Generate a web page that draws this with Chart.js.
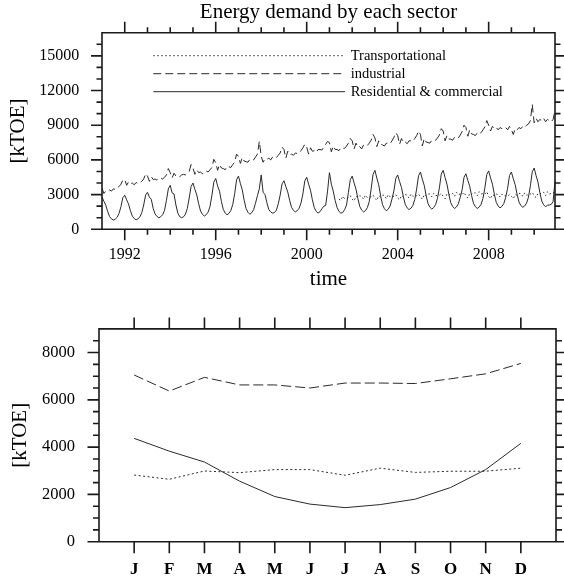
<!DOCTYPE html>
<html><head><meta charset="utf-8">
<script src="https://cdn.jsdelivr.net/npm/chart.js@4/dist/chart.umd.min.js"></script>
<style>
html,body{margin:0;padding:0;background:#fff;width:564px;height:581px;overflow:hidden}
canvas{position:absolute;left:0}
#c1{top:0}
#c2{top:295px}
</style></head><body>
<canvas id="c1" width="564" height="295"></canvas>
<canvas id="c2" width="564" height="286"></canvas>
<script>
// ---------- DATA ----------
const years = [1991,1992,1993,1994,1995,1996,1997,1998,1999,2000,2001,2002,2003,2004,2005,2006,2007,2008,2009,2010];
const monthCodes = ['01','02','03','04','05','06','07','08','09','10','11','12'];
const seriesNames = ['Transportational','industrial','Residential & commercial'];
const chartTitle = 'Energy demand by each sector';

const residential = [
 2800,2420,2080,1540,1100,900,800,880,1040,1380,1960,2740,
 2950,2550,2180,1610,1140,930,820,900,1080,1440,2100,2960,
 3200,2780,2600,1810,1330,1110,1000,1090,1260,1640,2510,3500,
 3800,3150,3050,2100,1400,1100,1000,1080,1300,1800,2700,3700,
 4000,3460,2970,2200,1580,1290,1150,1260,1490,1980,2950,4080,
 4400,3750,3300,2400,1720,1400,1250,1380,1630,2160,3080,4270,
 4600,3970,3410,2520,1800,1470,1300,1430,1700,2260,2900,3500,
 4700,3200,3000,2300,1700,1500,1400,1450,1650,2200,2960,3930,
 4200,3690,3230,2500,1900,1640,1500,1610,1820,2280,3070,4190,
 4500,3910,3380,2550,1870,1560,1400,1520,1770,2000,2050,3300,
 4900,3900,3300,2500,1900,1550,1400,1450,1700,2100,3170,4290,
 4600,4010,3480,2650,1970,1660,1500,1620,1870,2400,3490,4750,
 5100,4430,3840,2900,2130,1780,1600,1740,2020,2620,3320,4400,
 4700,4130,3620,2810,2150,1850,1700,1820,2060,2570,3480,4630,
 4950,4340,3800,2930,2230,1910,1750,1880,2130,2680,3580,4770,
 5100,4470,3910,3020,2300,1970,1800,1930,2200,2760,3420,4500,
 4800,4230,3720,2910,2250,1950,1800,1920,2160,2670,3580,4730,
 5050,4440,3900,3030,2330,2010,1850,1980,2230,2780,3550,4650,
 4950,4370,3850,3030,2360,2050,1900,2020,2270,2780,3760,4970,
 5300,4660,4090,3190,2450,2120,1950,2080,2100,2150,2400,4200
];
const industrial = [
 3550,3100,3300,3250,3400,3300,3500,3450,3600,3700,3900,4250,
 4300,3800,4100,3950,4000,3850,4050,3950,4000,4150,4350,4800,
 4600,4150,4550,4300,4350,4250,4400,4400,4350,4500,4700,5250,
 4900,4450,4850,4600,4650,4550,4700,4750,4700,4850,5000,5600,
 5300,4750,5150,4900,4950,4800,5000,5050,4950,5150,5350,6050,
 5750,5100,5600,5300,5250,5150,5450,5400,5350,5600,5800,6500,
 6300,5700,6200,5900,5850,5800,6050,6000,6000,6250,6500,7600,
 6300,5800,6100,6050,6150,6000,6250,6150,6200,6400,6600,7100,
 6900,6150,6750,6450,6500,6400,6600,6550,6600,6800,7050,7350,
 7100,6500,7050,6750,6800,6650,6900,6900,6850,7100,7350,7600,
 7500,6700,7200,6900,6900,6800,7050,7000,7000,7200,7450,7850,
 7650,6950,7450,7100,7150,6950,7300,7250,7250,7450,7700,8200,
 7900,7150,7650,7350,7300,7200,7450,7450,7400,7650,7950,8350,
 8100,7350,7850,7500,7550,7400,7650,7650,7600,7850,8100,8500,
 8200,7200,7850,7550,7500,7450,7700,7650,7700,7900,8150,8700,
 8500,7650,8100,7800,7800,7700,7950,8000,7900,8150,8450,9000,
 8800,8050,8600,8250,8200,8100,8350,8300,8350,8600,8850,9400,
 9000,8500,8900,8700,8800,8600,8800,8700,8700,8800,8600,8900,
 8600,8200,8700,8600,8800,8700,8900,8800,9000,9100,9400,10800,
 9200,9600,9300,9500,9400,9600,9300,9500,9400,9300,9500,10300
];
const transportStart = '2001-06';
const transportValues = [
 2600,2500,2850,2650,2700,2750,2900,
 2600,2450,2850,2750,2900,2850,2600,2950,2750,2800,2800,2950,
 2700,2500,2900,2800,2950,2950,2650,3000,2800,2850,2850,3000,
 2700,2550,2900,2800,3000,2950,2700,3050,2850,2900,2900,3050,
 2800,2600,3000,2900,3050,3050,2800,3100,2900,2950,2950,3100,
 2850,2650,3050,2950,3100,3100,2850,3200,3000,3050,3000,3200,
 2900,2700,3100,3000,3150,3150,2900,3250,3050,3100,3050,3250,
 2850,2650,3000,2900,3050,3000,2800,3050,2900,2900,2850,3000,
 2850,2650,3000,2950,3100,3100,2850,3150,2950,3000,3050,3200,
 2900,2750,3100,3050,3200,3200,2900,3250,3050,3100,3100,3350
];
const yearTickLabels = ['1992','1996','2000','2004','2008'];
const topYTickLabels = [0,3000,6000,9000,12000,15000];

const climMonths = ['J','F','M','A','M','J','J','A','S','O','N','D'];
const climTransport  = [2820,2640,2990,2920,3050,3050,2810,3110,2930,2980,2980,3110];
const climIndustrial = [7050,6370,6950,6630,6630,6500,6710,6710,6690,6890,7100,7540];
const climResidential= [4370,3830,3370,2560,1910,1590,1440,1570,1800,2290,3050,4160];
const bottomYTickLabels = [0,2000,4000,6000,8000];

// ---------- BUILD ----------
const FONT = "'Liberation Serif','Times New Roman',serif";
const INK = '#1a1a1a';
const LINE = '#2a2a2a';

const categories = [];
years.forEach(y => monthCodes.forEach(m => categories.push(y + '-' + m)));
const tStartIdx = categories.indexOf(transportStart);
const transport = categories.map((c, i) => (i >= tStartIdx ? transportValues[i - tStartIdx] : null));

function framePlugin(cfg) {
  return {
    id: 'frame',
    afterDatasetsDraw(chart) {
      const {ctx, chartArea: a, scales} = chart;
      const xs = scales.x, ys = scales.y;
      ctx.save();
      ctx.strokeStyle = INK;
      ctx.lineWidth = 1.6;
      ctx.setLineDash([]);
      ctx.beginPath();
      ctx.rect(a.left, a.top, a.right - a.left, a.bottom - a.top);
      cfg.xTicks.forEach(t => {
        const p = xs.getPixelForValue(t.v);
        ctx.moveTo(p, a.bottom); ctx.lineTo(p, a.bottom + t.len);
        ctx.moveTo(p, a.top); ctx.lineTo(p, a.top - t.len);
      });
      cfg.yTicks.forEach(t => {
        const p = ys.getPixelForValue(t.v);
        ctx.moveTo(a.left, p); ctx.lineTo(a.left - t.len, p);
        ctx.moveTo(a.right, p); ctx.lineTo(a.right + t.len, p);
      });
      ctx.stroke();
      if (cfg.title) {
        ctx.fillStyle = '#000';
        ctx.font = cfg.title.font;
        ctx.textAlign = 'center';
        ctx.textBaseline = 'middle';
        ctx.fillText(cfg.title.text, (a.left + a.right) / 2, cfg.title.y);
      }
      if (cfg.legend) {
        const L = cfg.legend;
        chart.data.datasets.forEach((ds, i) => {
          const y = L.y0 + i * L.dy;
          ctx.beginPath();
          ctx.strokeStyle = LINE;
          ctx.lineWidth = 1;
          ctx.setLineDash(ds.borderDash || []);
          ctx.moveTo(L.x0, y); ctx.lineTo(L.x1, y);
          ctx.stroke();
          ctx.setLineDash([]);
          ctx.fillStyle = '#000';
          ctx.font = L.font;
          ctx.textBaseline = 'alphabetic';
          ctx.textAlign = 'left';
          ctx.fillText(ds.label, L.tx, y + 4.2);
        });
      }
      ctx.restore();
    }
  };
}

// top chart ticks
const topXTicks = [];
years.forEach((y, i) => {
  if (i === 0) return;
  const idx = categories.indexOf(y + '-01');
  topXTicks.push({v: idx, len: yearTickLabels.includes(String(y)) ? 11 : 5.5});
});
const topYTicks = [];
for (let v = 1000; v < 17000; v += 1000) topYTicks.push({v, len: v % 3000 === 0 ? 11 : 5.5});
topYTicks.push({v: 0, len: 11});

new Chart(document.getElementById('c1'), {
  type: 'line',
  data: {
    labels: categories,
    datasets: [
      {label: seriesNames[0], data: transport, borderColor: LINE, borderWidth: 1, borderDash: [1.5, 2.5], pointRadius: 0, spanGaps: false},
      {label: seriesNames[1], data: industrial, borderColor: LINE, borderWidth: 1, borderDash: [8, 4], pointRadius: 0},
      {label: seriesNames[2], data: residential, borderColor: LINE, borderWidth: 1, pointRadius: 0}
    ]
  },
  options: {
    responsive: false, animation: false,
    layout: {padding: {left: 0, right: 9, top: 32.7, bottom: 0}},
    plugins: {legend: {display: false}, tooltip: {enabled: false}, title: {display: false}},
    scales: {
      x: {
        type: 'category', offset: false,
        grid: {display: false, drawTicks: false}, border: {display: false},
        afterBuildTicks: s => { s.ticks = yearTickLabels.map(l => ({value: categories.indexOf(l + '-01')})); },
        afterFit: s => { s.height = 65.7; },
        ticks: {autoSkip: false, maxRotation: 0, padding: 16, color: '#000',
          font: {family: FONT, size: 16}, callback: v => categories[v].slice(0, 4)},
        title: {display: true, text: 'time', color: '#000', font: {family: FONT, size: 21}, padding: {top: 0, bottom: 3.4}}
      },
      y: {
        min: 0, max: 17000,
        grid: {display: false, drawTicks: false}, border: {display: false},
        afterBuildTicks: s => { s.ticks = topYTickLabels.map(v => ({value: v})); },
        afterFit: s => { s.width = 102; },
        ticks: {padding: 22.7, color: '#000', font: {family: FONT, size: 16}, callback: v => String(v)},
        title: {display: true, text: '[kTOE]', color: '#000', font: {family: FONT, size: 21}, padding: {top: 5.4, bottom: 0}}
      }
    }
  },
  plugins: [framePlugin({
    xTicks: topXTicks, yTicks: topYTicks,
    title: {text: chartTitle, y: 12.6, font: "21px " + FONT},
    legend: {x0: 153.3, x1: 345, y0: 55.7, dy: 18, tx: 350.7, font: "14.5px " + FONT}
  })]
});

// bottom chart
const botXTicks = climMonths.map((m, i) => ({v: i + 1, len: 11.5}));
const botYTicks = [];
for (let v = 500; v < 9000; v += 500) botYTicks.push({v, len: v % 2000 === 0 ? 11.5 : 6});
botYTicks.push({v: 0, len: 11.5});
const toPts = arr => arr.map((v, i) => ({x: i + 1, y: v}));

new Chart(document.getElementById('c2'), {
  type: 'line',
  data: {
    datasets: [
      {label: seriesNames[0], data: toPts(climTransport), borderColor: LINE, borderWidth: 1, borderDash: [2, 2.5], pointRadius: 0},
      {label: seriesNames[1], data: toPts(climIndustrial), borderColor: LINE, borderWidth: 1, borderDash: [10, 4], pointRadius: 0},
      {label: seriesNames[2], data: toPts(climResidential), borderColor: LINE, borderWidth: 1, pointRadius: 0}
    ]
  },
  options: {
    responsive: false, animation: false,
    layout: {padding: {left: 0, right: 8, top: 17.7, bottom: 0}},
    plugins: {legend: {display: false}, tooltip: {enabled: false}},
    scales: {
      x: {
        type: 'linear', min: 0, max: 13,
        grid: {display: false, drawTicks: false}, border: {display: false},
        afterBuildTicks: s => { s.ticks = climMonths.map((m, i) => ({value: i + 1})); },
        afterFit: s => { s.height = 39.3; },
        ticks: {autoSkip: false, maxRotation: 0, padding: 18.1, color: '#000',
          font: {family: FONT, size: 17, weight: 'bold'}, callback: v => climMonths[v - 1]}
      },
      y: {
        min: 0, max: 9000,
        grid: {display: false, drawTicks: false}, border: {display: false},
        afterBuildTicks: s => { s.ticks = bottomYTickLabels.map(v => ({value: v})); },
        afterFit: s => { s.width = 99; },
        ticks: {padding: 24, color: '#000', font: {family: FONT, size: 16.5}, callback: v => String(v)},
        title: {display: true, text: '[kTOE]', color: '#000', font: {family: FONT, size: 21}, padding: {top: 7.9, bottom: 0}}
      }
    }
  },
  plugins: [framePlugin({xTicks: botXTicks, yTicks: botYTicks})]
});
</script>
</body></html>
